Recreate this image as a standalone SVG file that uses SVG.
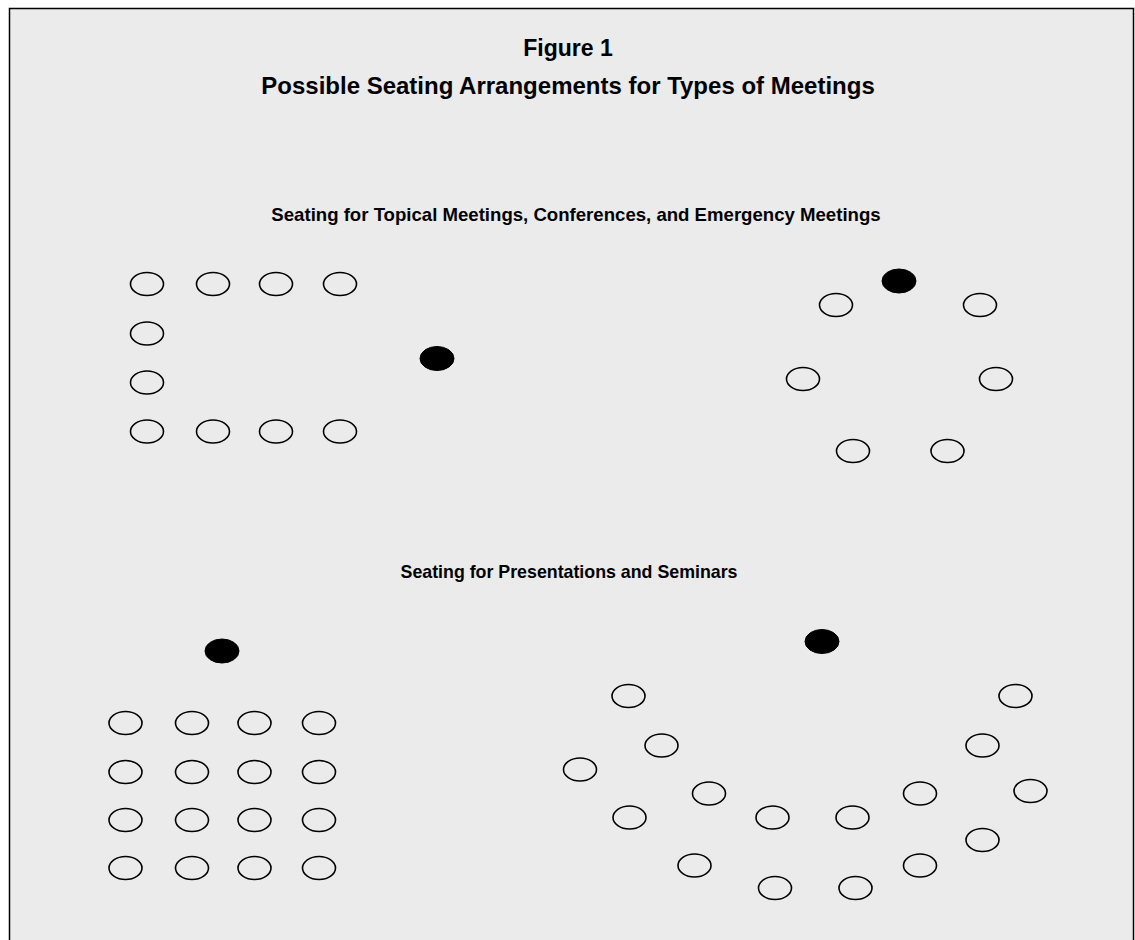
<svg xmlns="http://www.w3.org/2000/svg" width="1135" height="940" viewBox="0 0 1135 940">
<style>
text{font-family:"Liberation Sans",Arial,sans-serif;font-weight:bold;fill:#000;text-anchor:middle}
.s{fill:none;stroke:#000;stroke-width:1.6}
.l{fill:#000;stroke:#000;stroke-width:1}
</style>
<defs>
<ellipse id="seat" class="s" rx="16.5" ry="11.5"/>
<ellipse id="lead" class="l" rx="17" ry="12"/>
</defs>
<rect x="0" y="0" width="1135" height="940" fill="#fff"/>
<rect x="9.5" y="8.5" width="1124" height="940" fill="#ebebeb" stroke="#000" stroke-width="1.5"/>
<g id="titles">
<text x="568" y="56" font-size="23">Figure 1</text>
<text x="568" y="94" font-size="24">Possible Seating Arrangements for Types of Meetings</text>
<text x="576" y="221" font-size="18.6">Seating for Topical Meetings, Conferences, and Emergency Meetings</text>
<text x="569" y="578" font-size="17.8">Seating for Presentations and Seminars</text>
</g>
<g id="u-shape">
<use href="#seat" x="147" y="284"/><use href="#seat" x="213" y="284"/><use href="#seat" x="276" y="284"/><use href="#seat" x="340" y="284"/>
<use href="#seat" x="147" y="333.5"/><use href="#seat" x="147" y="382.5"/>
<use href="#seat" x="147" y="431.5"/><use href="#seat" x="213" y="431.5"/><use href="#seat" x="276" y="431.5"/><use href="#seat" x="340" y="431.5"/>
<use href="#lead" x="437" y="358.5"/>
</g>
<g id="circle">
<use href="#lead" x="899" y="281"/>
<use href="#seat" x="836" y="305"/><use href="#seat" x="980" y="305"/>
<use href="#seat" x="803" y="379"/><use href="#seat" x="996" y="379"/>
<use href="#seat" x="853" y="451"/><use href="#seat" x="947.5" y="451"/>
</g>
<g id="classroom">
<use href="#lead" x="222" y="651"/>
<use href="#seat" x="125.5" y="723"/><use href="#seat" x="192" y="723"/><use href="#seat" x="254.5" y="723"/><use href="#seat" x="319" y="723"/>
<use href="#seat" x="125.5" y="772"/><use href="#seat" x="192" y="772"/><use href="#seat" x="254.5" y="772"/><use href="#seat" x="319" y="772"/>
<use href="#seat" x="125.5" y="820"/><use href="#seat" x="192" y="820"/><use href="#seat" x="254.5" y="820"/><use href="#seat" x="319" y="820"/>
<use href="#seat" x="125.5" y="868"/><use href="#seat" x="192" y="868"/><use href="#seat" x="254.5" y="868"/><use href="#seat" x="319" y="868"/>
</g>
<g id="chevron">
<use href="#lead" x="822" y="641.5"/>
<use href="#seat" x="628.5" y="696"/><use href="#seat" x="661.5" y="745.5"/><use href="#seat" x="580" y="769.5"/>
<use href="#seat" x="709" y="793.5"/><use href="#seat" x="629.5" y="817.5"/><use href="#seat" x="772.5" y="817.5"/>
<use href="#seat" x="852.5" y="817.5"/><use href="#seat" x="694.5" y="865.5"/><use href="#seat" x="775" y="888"/>
<use href="#seat" x="855.5" y="888"/><use href="#seat" x="920" y="793.5"/><use href="#seat" x="982.5" y="745.5"/>
<use href="#seat" x="1015.5" y="696"/><use href="#seat" x="1030.5" y="791"/><use href="#seat" x="982.5" y="840"/>
<use href="#seat" x="920" y="865.5"/>
</g>
</svg>
